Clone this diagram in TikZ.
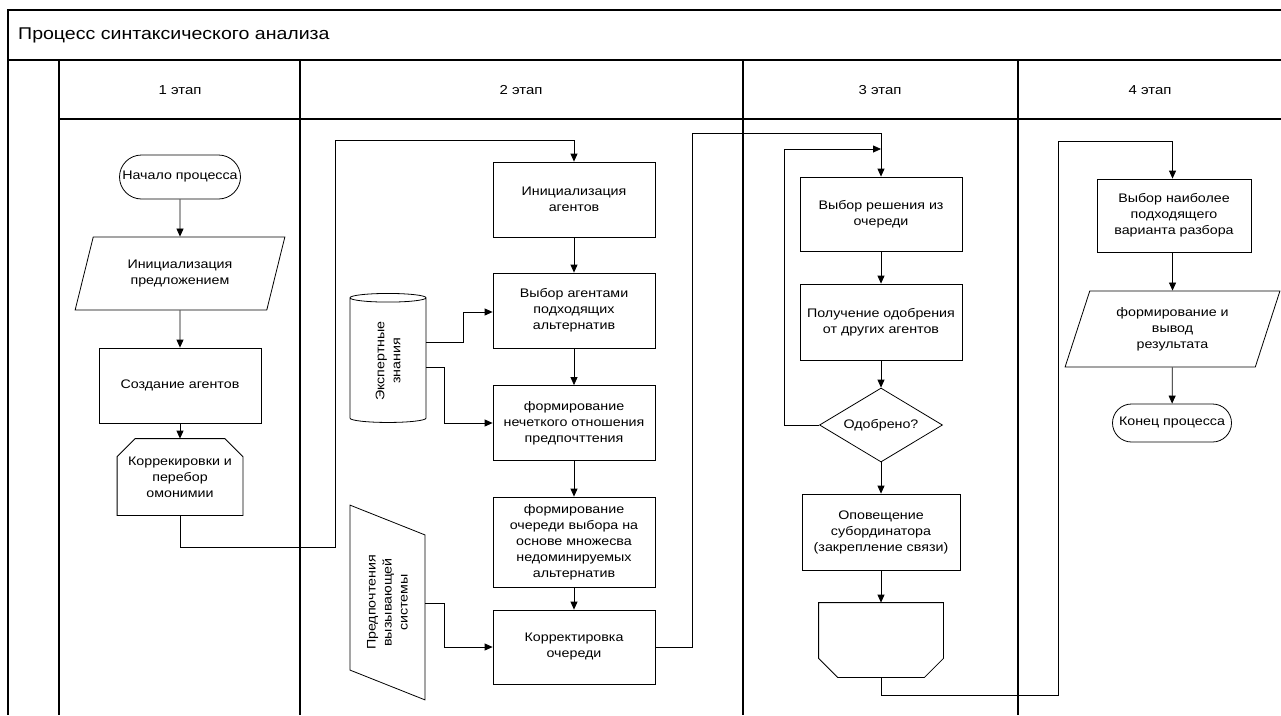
\documentclass[tikz,border=0pt]{standalone}
\usepackage{fontspec}
\setmainfont{Liberation Sans}[FakeStretch=1.15]
\usepackage{tikz}
\usetikzlibrary{arrows.meta,positioning,shapes.geometric,shapes.misc,calc}
\tikzset{
  fc/base/.style={draw, line width=0.8pt, align=center, inner sep=2pt, font=\fontsize{12.4}{16}\selectfont},
  fc/process/.style={fc/base, rectangle, minimum width=162pt, minimum height=75pt},
  fc/io/.style={fc/base, trapezium, trapezium left angle=70, trapezium right angle=110, trapezium stretches=true},
  fc/terminal/.style={fc/base, rounded rectangle, minimum width=125pt, minimum height=44pt},
  fc/decision/.style={fc/base, diamond, aspect=1.66, inner sep=1pt, minimum width=123pt, minimum height=74pt},
  fc/loop/.style={fc/base, draw=none, rectangle},
  fc/store/.style={fc/base, cylinder, aspect=0.3, rotate=90, minimum width=76pt, minimum height=129pt},
  fc/manual/.style={fc/base, trapezium, trapezium left angle=64, trapezium right angle=116, trapezium stretches=true, rotate=90, minimum width=195pt, minimum height=75pt},
  lane/.style={line width=1.3pt},
  lanehead/.style={font=\fontsize{13}{16}\selectfont, inner sep=0pt},
  arr/.style={line width=0.8pt, -{Triangle[length=8pt,width=7pt]}},
  outline/.style={line width=0.8pt}
}
\begin{document}
\begin{tikzpicture}[x=1pt, y=-1pt]
\useasboundingbox (0,0) rectangle (1281,715);
\fill[white] (0,0) rectangle (1281,715);

% pool and lanes
\draw[lane] (1281,10) -- (8,10) -- (8,715);
\draw[lane] (8,60) -- (1281,60);
\draw[lane] (59,119) -- (1281,119);
\foreach \lx in {59,300,743,1018}
  \draw[lane] (\lx,60) -- (\lx,715);
\node[anchor=west, inner sep=0pt, font=\fontsize{17}{20}\selectfont] (title) at (18,35) {Процесс синтаксического анализа};
\node[lanehead] (h1) at (180,90) {1 этап};
\node[lanehead] (h2) at (521,90) {2 этап};
\node[lanehead] (h3) at (880,90) {3 этап};
\node[lanehead] (h4) at (1150,90) {4 этап};

% 1 этап
\node[fc/terminal] (start) at (180,177) {Начало процесса};
\node[fc/io, minimum width=210pt, minimum height=73pt] (initsent) at (180,273.5) {Инициализация\\предложением};
\node[fc/process] (createag) at (180,385.5) {Создание агентов};
\node[fc/loop, minimum width=125pt, minimum height=76pt] (homon) at (180,477) {Коррекировки и\\перебор\\омонимии};
\draw[outline] (homon.south west) -- ($(homon.north west)+(0,18)$) -- ($(homon.north west)+(18,0)$)
  -- ($(homon.north east)+(-18,0)$) -- ($(homon.north east)+(0,18)$) -- (homon.south east) -- cycle;

% 2 этап
\node[fc/process] (initag) at (574,199.5) {Инициализация\\агентов};
\node[fc/process] (choose) at (574,310.5) {Выбор агентами\\подходящих\\альтернатив};
\node[fc/process] (fuzzy) at (574,423) {формирование\\нечеткого отношения\\предпочттения};
\node[fc/process, minimum height=90pt] (queue) at (574,542) {формирование\\очереди выбора на\\основе множесва\\недоминируемых\\альтернатив};
\node[fc/process, minimum height=74pt] (correct) at (574,647) {Корректировка\\очереди};
\node[fc/store] (expert) at (388,361) {Экспертные\\знания};
\node[fc/manual] (prefs) at (387.5,602.5) {Предпочтения\\вызывающей\\системы};

% 3 этап
\node[fc/process, minimum height=74pt] (pick) at (881,214) {Выбор решения из\\очереди};
\node[fc/process, minimum height=76pt] (approval) at (881,322) {Получение одобрения\\от других агентов};
\node[fc/decision] (approved) at (881,425) {Одобрено?};
\node[fc/process, minimum width=158pt, minimum height=76pt] (notify) at (881,532) {Оповещение\\субординатора\\(закрепление связи)};
\node[fc/loop, minimum width=124pt, minimum height=74pt] (loopend) at (881,640) {};
\draw[outline] (loopend.north west) -- ($(loopend.south west)+(0,-19)$) -- ($(loopend.south west)+(19,0)$)
  -- ($(loopend.south east)+(-19,0)$) -- ($(loopend.south east)+(0,-19)$) -- (loopend.north east) -- cycle;

% 4 этап
\node[fc/process, minimum width=154pt, minimum height=73pt] (best) at (1174,215.5) {Выбор наиболее\\подходящего\\варианта разбора};
\node[fc/io, minimum width=215pt, minimum height=76pt] (output) at (1172.5,329) {формирование и\\вывод\\результата};
\node[fc/terminal, minimum width=123pt, minimum height=38pt] (finish) at (1172,423) {Конец процесса};

\coordinate (j1) at (335,140);
\coordinate (j2) at (692,133);
\coordinate (j3) at (784,149);
\coordinate (j4) at (1058,141);

\draw[arr] (start) -- (initsent);
\draw[arr] (initsent) -- (createag);
\draw[arr] (createag) -- (homon);
\draw[arr] (homon.south) -- ++(0,32) -| (j1) -| (initag.north);

\draw[arr] (initag) -- (choose);
\draw[arr] (choose) -- (fuzzy);
\draw[arr] (fuzzy) -- (queue);
\draw[arr] (queue) -- (correct);
\draw[arr] ([shift={(38,-19)}]expert.center) -- ++(37,0) |- ([yshift=-1.5pt]choose.west);
\draw[arr] ([shift={(38,6)}]expert.center) -- ++(18,0) |- (fuzzy.west);
\draw[arr] ([shift={(37.5,0.5)}]prefs.center) -- ++(19,0) |- (correct.west);
\draw[arr] (correct.east) -| (j2) -| (pick.north);

\draw[arr] (pick) -- (approval);
\draw[arr] (approval) -- (approved);
\draw[arr] (approved) -- (notify);
\draw[arr] (notify) -- (loopend);
\draw[arr] (approved.west) -| (j3) -- (j3 -| pick.north);
\draw[arr] (loopend.south) -- ++(0,18) -| (j4) -| (best.north -| output.north);

\draw[arr] (best.south -| output.north) -- (output);
\draw[arr] (output) -- (finish);
\end{tikzpicture}
\end{document}
